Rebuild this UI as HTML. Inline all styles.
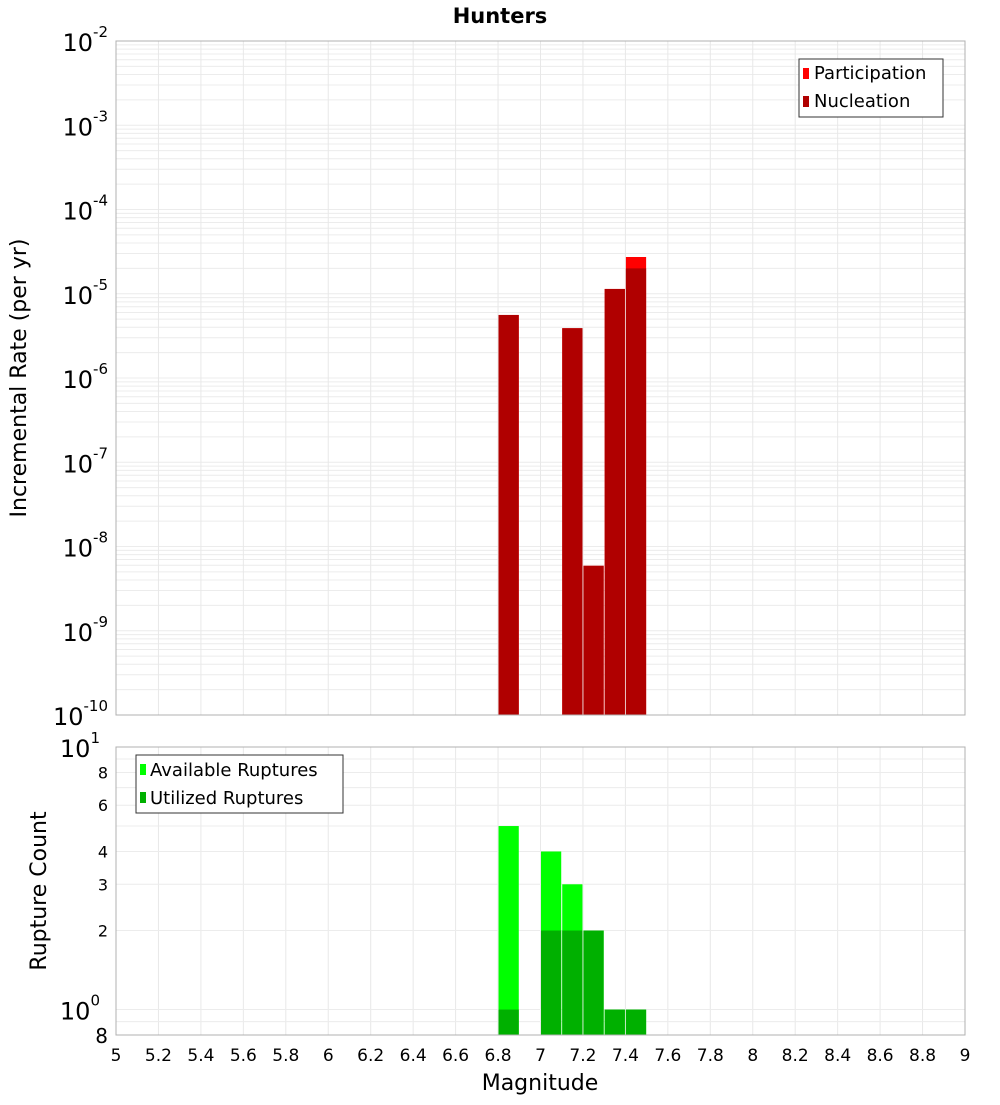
<!DOCTYPE html>
<html><head><meta charset="utf-8"><style>
body{margin:0;background:#fff;}
svg text{font-family:"DejaVu Sans","Liberation Sans",sans-serif;fill:#000;}
</style></head><body>
<svg id="chart" width="1000" height="1100" xmlns="http://www.w3.org/2000/svg">
<text x="500" y="23" text-anchor="middle" font-size="21" font-weight="bold">Hunters</text>
<g id="topg"></g><g id="botg"></g>
<text transform="translate(26,378) rotate(-90)" text-anchor="middle" font-size="22">Incremental Rate (per yr)</text>
<text transform="translate(46,891) rotate(-90)" text-anchor="middle" font-size="22">Rupture Count</text>
<text x="540" y="1090" text-anchor="middle" font-size="22">Magnitude</text>
</svg>
<script>
const mags=[6.85,7.15,7.25,7.35,7.45];
const participation=[5.6e-6,3.9e-6,5.9e-9,1.14e-5,2.73e-5];
const nucleation=[5.6e-6,3.9e-6,5.9e-9,1.14e-5,2.0e-5];
const countMags=[6.85,7.05,7.15,7.25,7.35,7.45];
const available=[5,4,3,2,1,1];
const utilized=[1,2,2,2,1,1];
const xTicks=[5,5.2,5.4,5.6,5.8,6,6.2,6.4,6.6,6.8,7,7.2,7.4,7.6,7.8,8,8.2,8.4,8.6,8.8,9];
const topExps=[-2,-3,-4,-5,-6,-7,-8,-9,-10];
const botTicks=[2,3,4,6,8];

const NS='http://www.w3.org/2000/svg';
const L=116,R=965,T1=41,B1=715,T2=747,B2=1035;
const x=m=>L+(m-5)/4*(R-L);
const yT=v=>T1+(-2-Math.log10(v))/8*(B1-T1);
const yB=v=>T2+(1-Math.log10(v))/(1-Math.log10(0.8))*(B2-T2);
function el(p,tag,a,txt){const e=document.createElementNS(NS,tag);for(const k in a)e.setAttribute(k,a[k]);if(txt!==undefined)e.textContent=txt;p.appendChild(e);return e;}
const topG=document.getElementById('topg'),botG=document.getElementById('botg');
let e;
for(let d=-10;d<-2;d++)for(let k=1;k<10;k++){const y=yT(k*Math.pow(10,d));
 e=el(topG,'line',{x1:L,x2:R,y1:y,y2:y,stroke:'#ececec','stroke-width':1});
 
 }
for(const t of xTicks){
 e=el(topG,'line',{x1:x(t),x2:x(t),y1:T1,y2:B1,stroke:'#e8e8e8'});
 
 
 e=el(botG,'line',{x1:x(t),x2:x(t),y1:T2,y2:B2,stroke:'#e8e8e8'});
 
 
 e=el(botG,'text',{x:x(t),y:1061,'text-anchor':'middle','font-size':17},String(t));
 
 }
for(const d of topExps){const y=yT(Math.pow(10,d));
 e=el(topG,'text',{x:108,y:y+10,'text-anchor':'end','font-size':24});
 
 
 el(e,'tspan',{},'10');el(e,'tspan',{dy:-14,'font-size':15},String(d));}
mags.forEach((m,i)=>{
 e=el(topG,'rect',{x:x(m-0.05)+0.5,y:yT(participation[i]),width:x(m+0.05)-x(m-0.05)-1,height:B1-yT(participation[i]),fill:'#ff0000'});
 
 
 e=el(topG,'rect',{x:x(m-0.05)+0.5,y:yT(nucleation[i]),width:x(m+0.05)-x(m-0.05)-1,height:B1-yT(nucleation[i]),fill:'#b00000'});
 
 });
el(topG,'rect',{x:L,y:T1,width:R-L,height:B1-T1,fill:'none',stroke:'#b0b0b0'});
e=el(topG,'g',{});


el(e,'rect',{x:799,y:59,width:144,height:58,fill:'#fff',stroke:'#333'});
el(e,'rect',{x:803,y:68,width:6,height:11,fill:'#ff0000'});
el(e,'text',{x:814,y:79,'font-size':18},'Participation');
el(e,'rect',{x:803,y:96,width:6,height:11,fill:'#b00000'});
el(e,'text',{x:814,y:107,'font-size':18},'Nucleation');
const bl=[];for(let k=8;k<10;k++)bl.push(k/10);for(let k=1;k<=10;k++)bl.push(k);
for(const v of bl){const y=yB(v);
 e=el(botG,'line',{x1:L,x2:R,y1:y,y2:y,stroke:'#ececec'});
 
 }
for(const v of botTicks){
 e=el(botG,'text',{x:108,y:yB(v)+6,'text-anchor':'end','font-size':16},String(v));
 
 }
e=el(botG,'text',{x:108,y:yB(0.8)+8,'text-anchor':'end','font-size':20},'8');


[[1,'0'],[10,'1']].forEach(([v,s])=>{
 e=el(botG,'text',{x:100,y:yB(v)+10,'text-anchor':'end','font-size':24});
 
 
 el(e,'tspan',{},'10');el(e,'tspan',{dy:-14,'font-size':15},s);});
countMags.forEach((m,i)=>{
 e=el(botG,'rect',{x:x(m-0.05)+0.5,y:yB(available[i]),width:x(m+0.05)-x(m-0.05)-1,height:B2-yB(available[i]),fill:'#00ff00'});
 
 
 e=el(botG,'rect',{x:x(m-0.05)+0.5,y:yB(utilized[i]),width:x(m+0.05)-x(m-0.05)-1,height:B2-yB(utilized[i]),fill:'#00b000'});
 
 });
el(botG,'rect',{x:L,y:T2,width:R-L,height:B2-T2,fill:'none',stroke:'#b0b0b0'});
e=el(botG,'g',{});


el(e,'rect',{x:136,y:755,width:207,height:58,fill:'#fff',stroke:'#333'});
el(e,'rect',{x:140,y:764,width:6,height:11,fill:'#00ff00'});
el(e,'text',{x:150,y:776,'font-size':18},'Available Ruptures');
el(e,'rect',{x:140,y:792,width:6,height:11,fill:'#00b000'});
el(e,'text',{x:150,y:804,'font-size':18},'Utilized Ruptures');
</script>
</body></html>
